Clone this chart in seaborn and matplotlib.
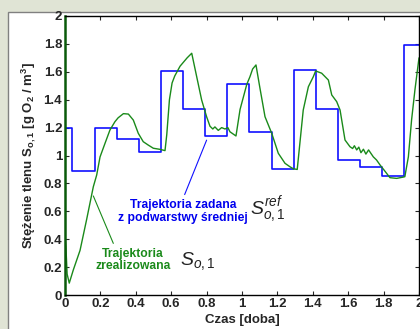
import matplotlib
matplotlib.use('Agg')
import matplotlib.pyplot as plt
from matplotlib.patches import Rectangle
import seaborn as sns
import pandas as pd

# set-point trajectory (step changes every 3 h)
ref_t = [0, 0.042, 0.167, 0.292, 0.417, 0.542, 0.667, 0.792, 0.917, 1.042,
         1.167, 1.292, 1.417, 1.542, 1.667, 1.792, 1.917, 2.0]
ref_v = [1.20, 0.89, 1.20, 1.115, 1.025, 1.605, 1.335, 1.14, 1.515, 1.17,
         0.905, 1.61, 1.335, 0.965, 0.92, 0.85, 1.79, 1.79]

# realised trajectory
real_t = [0, 0.005, 0.012, 0.024, 0.047, 0.085, 0.122, 0.16, 0.179, 0.198,
          0.226, 0.254, 0.282, 0.30, 0.33, 0.358, 0.386, 0.414, 0.442, 0.47,
          0.499, 0.537, 0.565, 0.575, 0.59, 0.605, 0.62, 0.65, 0.69, 0.716,
          0.744, 0.772, 0.80, 0.819, 0.835, 0.847, 0.866, 0.885, 0.904, 0.92,
          0.932, 0.966, 0.989, 1.027, 1.045, 1.06, 1.079, 1.10, 1.13, 1.168,
          1.205, 1.243, 1.27, 1.29, 1.312, 1.346, 1.375, 1.403, 1.416, 1.45,
          1.488, 1.507, 1.535, 1.554, 1.582, 1.61, 1.625, 1.635, 1.648, 1.66,
          1.672, 1.686, 1.70, 1.715, 1.742, 1.76, 1.78, 1.80, 1.817, 1.836,
          1.874, 1.91, 1.92, 1.94, 1.958, 1.977, 2.0]
real_v = [0.42, 0.35, 0.15, 0.085, 0.18, 0.32, 0.54, 0.776, 0.86, 0.99,
          1.087, 1.183, 1.242, 1.27, 1.30, 1.297, 1.254, 1.159, 1.099, 1.075,
          1.052, 1.044, 1.035, 1.15, 1.40, 1.52, 1.57, 1.64, 1.70, 1.733,
          1.565, 1.398, 1.278, 1.21, 1.19, 1.205, 1.18, 1.20, 1.19, 1.20,
          1.17, 1.14, 1.33, 1.51, 1.565, 1.62, 1.649, 1.493, 1.278, 1.159,
          1.016, 0.944, 0.92, 0.905, 0.90, 1.326, 1.493, 1.565, 1.606, 1.59,
          1.541, 1.434, 1.386, 1.326, 1.111, 1.063, 1.05, 1.07, 1.04, 1.06,
          1.02, 1.045, 1.01, 1.04, 0.99, 0.968, 0.932, 0.90, 0.872, 0.841,
          0.836, 0.845, 0.848, 0.991, 1.254, 1.47, 1.70]

x_ticks = [0, 0.2, 0.4, 0.6, 0.8, 1, 1.2, 1.4, 1.6, 1.8, 2]
x_labels = ['0', '0.2', '0.4', '0.6', '0.8', '1', '1.2', '1.4', '1.6', '1.8', '2']
y_ticks = [0, 0.2, 0.4, 0.6, 0.8, 1, 1.2, 1.4, 1.6, 1.8, 2]
y_labels = ['0', '0.2', '0.4', '0.6', '0.8', '1', '1.2', '1.4', '1.6', '1.8', '2']

ref_df = pd.DataFrame({'t': ref_t, 'v': ref_v})
real_df = pd.DataFrame({'t': real_t, 'v': real_v})

sns.set_style('ticks')
plt.rcParams['font.family'] = ['Liberation Sans', 'DejaVu Sans']
plt.rcParams['mathtext.fontset'] = 'custom'
plt.rcParams['mathtext.rm'] = 'Liberation Sans'
plt.rcParams['mathtext.it'] = 'Liberation Sans:italic'
plt.rcParams['mathtext.bf'] = 'Liberation Sans:bold'

fig = plt.figure(figsize=(4.2, 3.29), dpi=100, facecolor='#e0e4d5')
fig.add_artist(Rectangle((8 / 420, -0.01), 1.0, (329 - 12) / 329 + 0.01,
                         transform=fig.transFigure, facecolor='white',
                         edgecolor='#808080', lw=1, zorder=-1))
ax = fig.add_axes([65 / 420, 34 / 329, 354 / 420, 279 / 329])

blue = '#1010ff'
green = '#1a8a1a'
sns.lineplot(data=ref_df, x='t', y='v', ax=ax, color=blue, lw=1.2,
             drawstyle='steps-post', estimator=None, sort=False)
sns.lineplot(data=real_df, x='t', y='v', ax=ax, color=green, lw=1.0,
             estimator=None, sort=False)

ax.set_xlim(0, 2)
ax.set_ylim(0, 2)
ax.set_xticks(x_ticks)
ax.set_xticklabels(x_labels, fontweight='bold', fontsize=9.5)
ax.set_yticks(y_ticks)
ax.set_yticklabels(y_labels, fontweight='bold', fontsize=9.5)
ax.tick_params(direction='in', length=3, top=True, right=True, pad=2)
for s in ax.spines.values():
    s.set_color('black')
    s.set_linewidth(1.0)
ax.spines['left'].set_color('#0a5a0a')
ax.spines['left'].set_linewidth(1.8)

ax.set_xlabel('Czas [doba]', fontweight='bold', fontsize=9.5, labelpad=3)
ax.set_ylabel(r'Stężenie tlenu S$_\mathbf{o,1}$ [g O$_\mathbf{2}$ / m$^\mathbf{3}$]',
              fontweight='bold', fontsize=9.5, labelpad=4)

# annotations
ax.text(0.667, 0.60, 'Trajektoria zadana\nz podwarstwy średniej', color='#0000ee',
        fontweight='bold', fontsize=8.7, ha='center', va='center', linespacing=1.15)
ax.text(1.045, 0.61, r'$S^{\mathit{ref}}_{\mathit{o,1}}$', color='#222222', fontsize=14,
        ha='left', va='center')
ax.plot([0.676, 0.80], [0.72, 1.11], color=blue, lw=0.8)

ax.text(0.384, 0.254, 'Trajektoria\nzrealizowana', color=green,
        fontweight='bold', fontsize=8.7, ha='center', va='center', linespacing=1.0)
ax.text(0.65, 0.245, r'$S_{\mathit{o,1}}$', color='#222222', fontsize=14,
        ha='left', va='center')
ax.plot([0.16, 0.273], [0.71, 0.37], color=green, lw=0.8)

fig.savefig('out.png', dpi=100, facecolor=fig.get_facecolor())
